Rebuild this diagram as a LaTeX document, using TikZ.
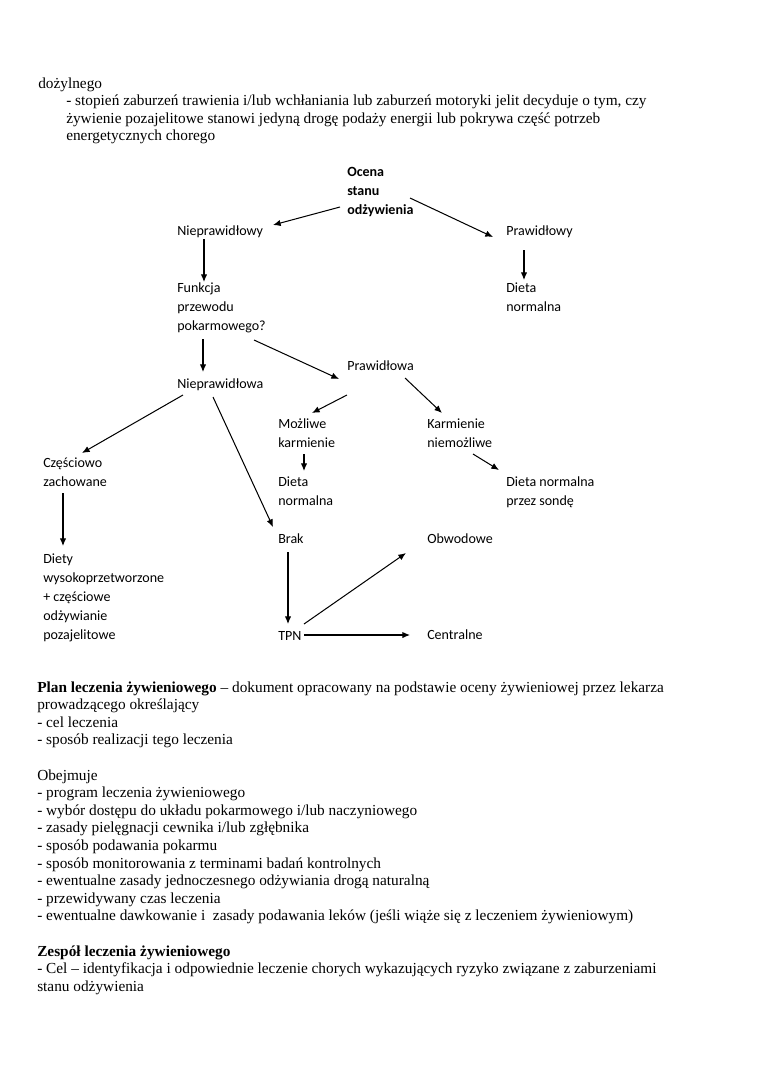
\documentclass[tikz,border=0pt]{standalone}
\usepackage{fontspec}
\setmainfont{Liberation Serif}
\newfontfamily\calibri{Carlito}
\usetikzlibrary{arrows.meta}
\begin{document}
\begin{tikzpicture}[x=0.7833pt,y=-0.7833pt,
  lbl/.style={anchor=base west,inner sep=0pt,font=\calibri\fontsize{11}{15}\selectfont},
  body/.style={anchor=base west,inner sep=0pt,font=\fontsize{12}{13.8}\selectfont},
  arr/.style={-{Latex[length=6pt,width=5pt]},line width=0.8pt,draw=black}]
\fill[white] (0,0) rectangle (760,1075);
\useasboundingbox (0,0) rectangle (760,1075);

% top text
\node[body] (doz) at (38,88) {dożylnego};
\node[body] (stop) at (66,105.6) {\vtop{\hbox{- stopień zaburzeń trawienia i/lub wchłaniania lub zaburzeń motoryki jelit decyduje o tym, czy}\hbox{żywienie pozajelitowe stanowi jedyną drogę podaży energii lub pokrywa część potrzeb}\hbox{energetycznych chorego}}};

% diagram nodes
\node[lbl] (ocena) at (347,176) {\vtop{\bfseries\hbox{Ocena}\hbox{stanu}\hbox{odżywienia}}};
\node[lbl] (niepy) at (177,235) {Nieprawidłowy};
\node[lbl] (prawy) at (506,235) {Prawidłowy};
\node[lbl] (funk) at (177,292) {\vtop{\hbox{Funkcja}\hbox{przewodu}\hbox{pokarmowego?}}};
\node[lbl] (diet1) at (506,292) {\vtop{\hbox{Dieta}\hbox{normalna}}};
\node[lbl] (prawa) at (347,370) {Prawidłowa};
\node[lbl] (niepa) at (177,388) {Nieprawidłowa};
\node[lbl] (mozl) at (278,428) {\vtop{\hbox{Możliwe}\hbox{karmienie}}};
\node[lbl] (karm) at (427,428) {\vtop{\hbox{Karmienie}\hbox{niemożliwe}}};
\node[lbl] (czes) at (43,467) {\vtop{\hbox{Częściowo}\hbox{zachowane}}};
\node[lbl] (diet2) at (278,486) {\vtop{\hbox{Dieta}\hbox{normalna}}};
\node[lbl] (diet3) at (506,486) {\vtop{\hbox{Dieta normalna}\hbox{przez sondę}}};
\node[lbl] (brak) at (278,543) {Brak};
\node[lbl] (obw) at (427,543) {Obwodowe};
\node[lbl] (diety) at (43,563) {\vtop{\hbox{Diety}\hbox{wysokoprzetworzone}\hbox{+ częściowe}\hbox{odżywianie}\hbox{pozajelitowe}}};
\node[lbl] (tpn) at (278,640) {TPN};
\node[lbl] (cent) at (427,639) {Centralne};

% connectors
\draw[arr] ([shift={(-7,31)}]ocena.base west) -- ([shift={(96,-10)}]niepy.base west);
\draw[arr] ([shift={(63,22)}]ocena.base west) -- ([shift={(-13,2)}]prawy.base west);
\draw[arr] ([shift={(27,4)}]niepy.base west) -- ([shift={(27,-10)}]funk.base west);
\draw[arr] ([shift={(18,15)}]prawy.base west) -- ([shift={(18,-12)}]diet1.base west);
\draw[arr] ([shift={(26,47)}]funk.base west) -- ([shift={(26,-16)}]niepa.base west);
\draw[arr] ([shift={(77,48)}]funk.base west) -- ([shift={(-8,9)}]prawa.base west);
\draw[arr] ([shift={(6,7)}]niepa.base west) -- ([shift={(39,-14)}]czes.base west);
\draw[arr] ([shift={(36,9)}]niepa.base west) -- ([shift={(-5,-16)}]brak.base west);
\draw[arr] ([shift={(0,25)}]prawa.base west) -- ([shift={(34,-15)}]mozl.base west);
\draw[arr] ([shift={(58,8)}]prawa.base west) -- ([shift={(15,-15)}]karm.base west);
\draw[arr] ([shift={(26,26)}]mozl.base west) -- ([shift={(26,-15)}]diet2.base west);
\draw[arr] ([shift={(46,26)}]karm.base west) -- ([shift={(-7,-16)}]diet3.base west);
\draw[arr] ([shift={(20,26)}]czes.base west) -- ([shift={(20,-17)}]diety.base west);
\draw[arr] ([shift={(10,9)}]brak.base west) -- ([shift={(10,-16)}]tpn.base west);
\draw[arr] ([shift={(26,-16)}]tpn.base west) -- ([shift={(-21,10)}]obw.base west);
\draw[arr] ([shift={(26,-5)}]tpn.base west) -- ([shift={(-17,-4)}]cent.base west);

% bottom text
\node[body] (plan) at (37,692) {\vtop{\hbox{\textbf{Plan leczenia żywieniowego} – dokument opracowany na podstawie oceny żywieniowej przez lekarza}\hbox{prowadzącego określający}\hbox{- cel leczenia}\hbox{- sposób realizacji tego leczenia}}};
\node[body] (obej) at (37,780) {\vtop{\hbox{Obejmuje}\hbox{- program leczenia żywieniowego}\hbox{- wybór dostępu do układu pokarmowego i/lub naczyniowego}\hbox{- zasady pielęgnacji cewnika i/lub zgłębnika}\hbox{- sposób podawania pokarmu}\hbox{- sposób monitorowania z terminami badań kontrolnych}\hbox{- ewentualne zasady jednoczesnego odżywiania drogą naturalną}\hbox{- przewidywany czas leczenia}\hbox{- ewentualne dawkowanie i\ \ zasady podawania leków (jeśli wiąże się z leczeniem żywieniowym)}}};
\node[body] (zesp) at (37,956) {\vtop{\hbox{\textbf{Zespół leczenia żywieniowego}}\hbox{- Cel – identyfikacja i odpowiednie leczenie chorych wykazujących ryzyko związane z zaburzeniami}\hbox{stanu odżywienia}}};
\end{tikzpicture}
\end{document}
